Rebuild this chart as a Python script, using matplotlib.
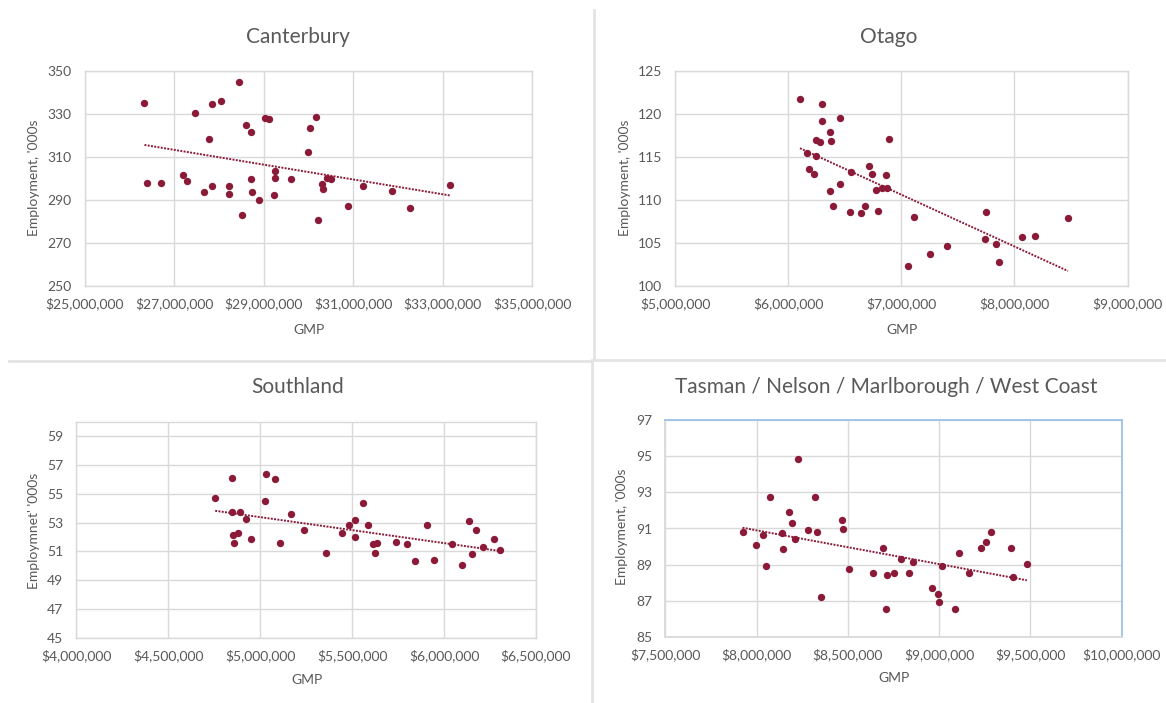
import numpy as np
import matplotlib
matplotlib.use("Agg")
import matplotlib.pyplot as plt
from matplotlib.ticker import FuncFormatter

# GMP in $ millions, employment in hundreds / thousands
cant_gmp = [26.34, 26.39, 26.70, 27.21, 27.28, 27.47, 27.68, 27.79, 27.84, 27.86,
            28.04, 28.22, 28.22, 28.45, 28.53, 28.61, 28.71, 28.73, 28.74, 28.89,
            29.03, 29.13, 29.23, 29.25, 29.25, 29.61, 30.00, 30.05, 30.17, 30.21,
            30.31, 30.34, 30.41, 30.51, 30.88, 31.22, 31.88, 32.27, 33.17]
cant_emp = [335.1, 298.0, 298.0, 301.5, 299.0, 330.2, 293.7, 318.4, 334.5, 296.4,
            336.1, 296.4, 292.6, 344.7, 283.0, 324.9, 299.5, 321.5, 293.7, 289.9,
            328.0, 327.6, 292.1, 303.6, 300.0, 299.5, 312.4, 323.2, 328.6, 280.8,
            297.6, 295.2, 300.3, 299.5, 287.2, 296.4, 294.3, 286.3, 296.7]

otago_gmp = [6.105, 6.167, 6.186, 6.228, 6.244, 6.247, 6.280, 6.299, 6.299, 6.371,
             6.371, 6.381, 6.400, 6.462, 6.462, 6.546, 6.556, 6.647, 6.676, 6.719,
             6.742, 6.781, 6.794, 6.829, 6.865, 6.872, 6.894, 7.057, 7.115, 7.252,
             7.401, 7.739, 7.749, 7.840, 7.863, 8.067, 8.178, 8.474]
otago_emp = [121.67, 115.48, 113.62, 113.04, 115.1, 116.99, 116.68, 121.13, 119.12, 117.92,
             111.07, 116.84, 109.33, 119.5, 111.88, 108.63, 113.2, 108.51, 109.33, 113.89,
             113.04, 111.18, 108.75, 111.34, 112.93, 111.34, 117.11, 102.36, 108.01, 103.72,
             104.6, 105.4, 108.63, 104.9, 102.8, 105.7, 105.8, 107.86]

south_gmp = [4.755, 4.849, 4.849, 4.853, 4.855, 4.878, 4.888, 4.925, 4.949, 5.025,
             5.031, 5.082, 5.107, 5.170, 5.240, 5.358, 5.446, 5.483, 5.514, 5.516,
             5.559, 5.586, 5.612, 5.622, 5.637, 5.741, 5.799, 5.843, 5.905, 5.944,
             6.044, 6.095, 6.138, 6.150, 6.175, 6.214, 6.271, 6.302]
south_emp = [54.68, 56.11, 53.71, 52.14, 51.61, 52.28, 53.71, 53.25, 51.86, 54.52,
             56.34, 56.04, 51.57, 53.62, 52.51, 50.91, 52.28, 52.85, 53.18, 52.02,
             54.36, 52.83, 51.5, 50.91, 51.57, 51.63, 51.5, 50.36, 52.83, 50.43,
             51.5, 50.04, 53.09, 50.85, 52.51, 51.31, 51.86, 51.08]

tas_gmp = [7.923, 7.997, 8.035, 8.054, 8.074, 8.142, 8.144, 8.176, 8.192, 8.212,
           8.225, 8.283, 8.321, 8.333, 8.353, 8.466, 8.472, 8.504, 8.637, 8.694,
           8.710, 8.712, 8.754, 8.790, 8.835, 8.859, 8.961, 8.992, 9.000, 9.018,
           9.088, 9.108, 9.165, 9.231, 9.259, 9.285, 9.394, 9.406, 9.481]
tas_emp = [90.81, 90.09, 90.62, 88.94, 92.72, 90.73, 89.85, 91.89, 91.32, 90.42,
           94.82, 90.94, 92.72, 90.81, 87.23, 91.45, 90.99, 88.76, 88.52, 89.9,
           86.53, 88.45, 88.52, 89.33, 88.52, 89.15, 87.73, 87.36, 86.92, 88.94,
           86.53, 89.66, 88.52, 89.9, 90.24, 90.81, 89.9, 88.32, 89.02]

W, H = 1166, 703
RED = "#8b1a38"
GREY = "#595959"
GRID = "#d9d9d9"

plt.rcParams["font.family"] = ["Lato", "DejaVu Sans"]

fig = plt.figure(figsize=(W / 100, H / 100), dpi=100)


def px_axes(left, top, right, bottom):
    return fig.add_axes([left / W, 1 - bottom / H, (right - left) / W, (bottom - top) / H])


def money(v, pos):
    return "${:,.0f}".format(v * 1e6)


panels = [
    dict(title="Canterbury", x=cant_gmp, y=cant_emp, box=(84.5, 70.7, 532, 286),
         xlim=(25, 35), xticks=np.arange(25, 35.1, 2), ylim=(250, 350), yticks=np.arange(250, 351, 20),
         ylabel="Employment, '000s", tpos=(298, 37), ypos=(34, 178), xpos=(309, 330)),
    dict(title="Otago", x=otago_gmp, y=otago_emp, box=(675, 70.7, 1127.5, 286),
         xlim=(5, 9), xticks=np.arange(5, 9.1, 1), ylim=(100, 125), yticks=np.arange(100, 126, 5),
         ylabel="Employment, '000s", tpos=(888.5, 37), ypos=(625, 178), xpos=(902, 330)),
    dict(title="Southland", x=south_gmp, y=south_emp, box=(76.4, 421.7, 536, 638),
         xlim=(4, 6.5), xticks=np.arange(4, 6.51, 0.5), ylim=(45, 60), yticks=np.arange(45, 60, 2),
         ylabel="Employmnet' '000s", tpos=(298, 387), ypos=(34, 531), xpos=(307, 680)),
    dict(title="Tasman / Nelson / Marlborough / West Coast", x=tas_gmp, y=tas_emp,
         box=(665.3, 420, 1121.6, 637),
         xlim=(7.5, 10), xticks=np.arange(7.5, 10.01, 0.5), ylim=(85, 97), yticks=np.arange(85, 98, 2),
         ylabel="Employment, '000s", tpos=(886.3, 387), ypos=(622.3, 527), xpos=(893.6, 678)),
]

for i, p in enumerate(panels):
    ax = px_axes(*p["box"])
    ax.set_xlim(*p["xlim"])
    ax.set_ylim(*p["ylim"])
    ax.set_xticks(p["xticks"])
    ax.set_yticks(p["yticks"])
    ax.xaxis.set_major_formatter(FuncFormatter(money))
    ax.grid(True, color=GRID, linewidth=1)
    ax.set_axisbelow(True)
    ax.tick_params(length=0, labelsize=10, colors=GREY)
    ax.tick_params(axis="x", pad=8)
    ax.tick_params(axis="y", pad=9.5)
    for s in ax.spines.values():
        s.set_color(GRID)
        s.set_linewidth(1)
    if i == 3:
        for s in ax.spines.values():
            s.set_color("#9dc3e6")
            s.set_linewidth(1.3)
        ax.spines["left"].set_color(GRID)
        ax.spines["bottom"].set_color(GRID)

    xs = np.array(p["x"])
    ys = np.array(p["y"])
    ax.scatter(xs, ys, s=28, color=RED, zorder=3, linewidths=0)
    k, b = np.polyfit(xs, ys, 1)
    tx = np.array([xs.min(), xs.max()])
    ax.plot(tx, k * tx + b, color=RED, linestyle=(0, (1, 0.7)), linewidth=1.4, zorder=2)

    fig.text(p["tpos"][0] / W, 1 - p["tpos"][1] / H, p["title"], ha="center", va="center",
             fontsize=15, color=GREY)
    fig.text(p["ypos"][0] / W, 1 - p["ypos"][1] / H, p["ylabel"], ha="center", va="center",
             rotation=90, fontsize=10, color=GREY)
    fig.text(p["xpos"][0] / W, 1 - p["xpos"][1] / H, "GMP", ha="center", va="center",
             fontsize=10, color=GREY)

# divider lines between the four charts
line_kw = dict(color="#e3e3e3", linewidth=2, transform=fig.transFigure)
fig.add_artist(plt.Line2D([9 / W, 592 / W], [1 - 360.5 / H] * 2, **line_kw))
fig.add_artist(plt.Line2D([594 / W, 1166 / W], [1 - 359.5 / H] * 2, **line_kw))
fig.add_artist(plt.Line2D([592 / W] * 2, [1 - 360 / H, 1 - 703 / H], **line_kw))
fig.add_artist(plt.Line2D([594 / W] * 2, [1 - 10 / H, 1 - 359 / H], **line_kw))

fig.savefig("out.png", dpi=100)
